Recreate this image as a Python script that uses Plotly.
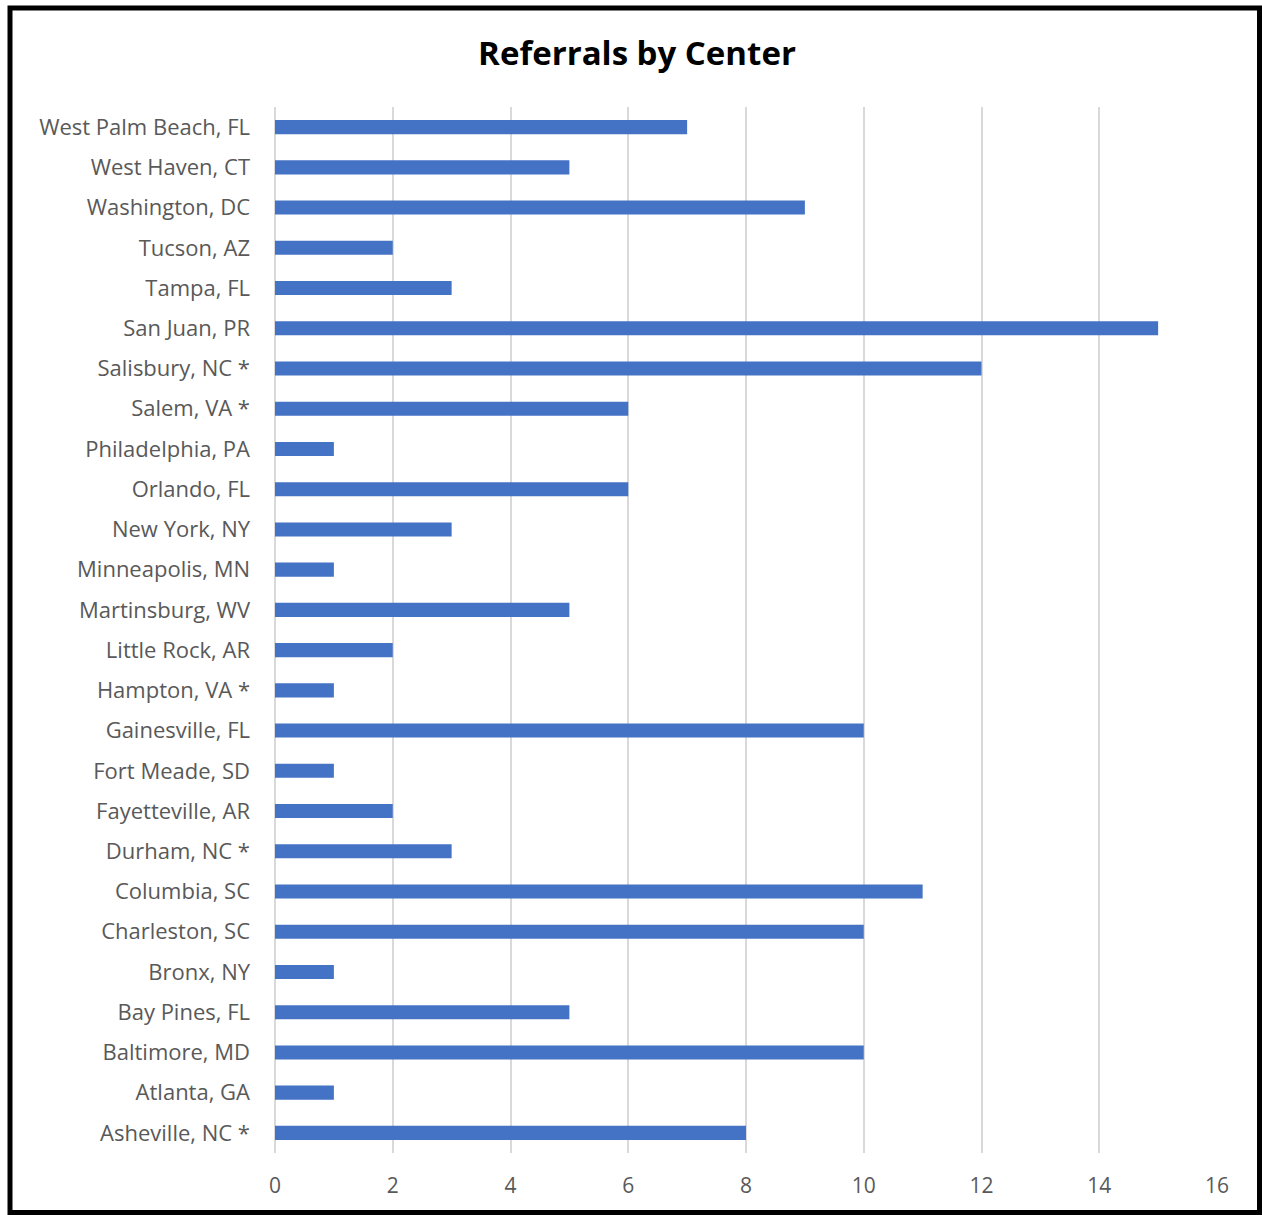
import plotly.graph_objects as go

centers = ["West Palm Beach, FL", "West Haven, CT", "Washington, DC", "Tucson, AZ",
           "Tampa, FL", "San Juan, PR", "Salisbury, NC *", "Salem, VA *",
           "Philadelphia, PA", "Orlando, FL", "New York, NY", "Minneapolis, MN",
           "Martinsburg, WV", "Little Rock, AR", "Hampton, VA *", "Gainesville, FL",
           "Fort Meade, SD", "Fayetteville, AR", "Durham, NC *", "Columbia, SC",
           "Charleston, SC", "Bronx, NY", "Bay Pines, FL", "Baltimore, MD",
           "Atlanta, GA", "Asheville, NC *"]
referrals = [7, 5, 9, 2, 3, 15, 12, 6, 1, 6, 3, 1, 5, 2, 1, 10, 1, 2, 3, 11, 10, 1, 5, 10, 1, 8]
x_ticks = [0, 2, 4, 6, 8, 10, 12, 14, 16]

W, H = 1262, 1215
L, R, T, B = 275, 45, 107, 62
pw, ph = W - L - R, H - T - B

def px(x):
    return (x - L) / pw

def py(y):
    return (H - B - y) / ph

FONT = "Open Sans, DejaVu Sans, sans-serif"

fig = go.Figure(go.Bar(
    x=referrals, y=centers, orientation="h",
    marker=dict(color="#4472C4", line=dict(width=0)),
    width=0.35,
))

fig.update_layout(
    width=W, height=H,
    margin=dict(l=L, r=R, t=T, b=B),
    paper_bgcolor="white", plot_bgcolor="white",
    font=dict(family=FONT, color="#595959", size=22),
    title=dict(text="<b>Referrals by Center</b>", x=px(637), xref="paper", xanchor="center",
               y=1 - 53 / H, yanchor="middle",
               font=dict(size=33, color="#000000", family=FONT)),
    xaxis=dict(range=[0, 16], tickvals=x_ticks, showgrid=True, gridcolor="#D9D9D9",
               gridwidth=2, zeroline=True, zerolinecolor="#D9D9D9", zerolinewidth=2,
               showline=False, ticks="", ticklabelstandoff=18,
               tickfont=dict(size=21, color="#595959")),
    yaxis=dict(categoryorder="array", categoryarray=centers, autorange="reversed",
               showgrid=False, showline=False, ticks="", ticklabelstandoff=24,
               tickfont=dict(size=22, color="#595959")),
    showlegend=False,
    shapes=[dict(type="rect", xref="paper", yref="paper",
                 x0=px(10), x1=px(1259.5), y0=py(8), y1=py(1212.5),
                 line=dict(color="black", width=5), layer="above")],
)

fig.write_html("out.html")
